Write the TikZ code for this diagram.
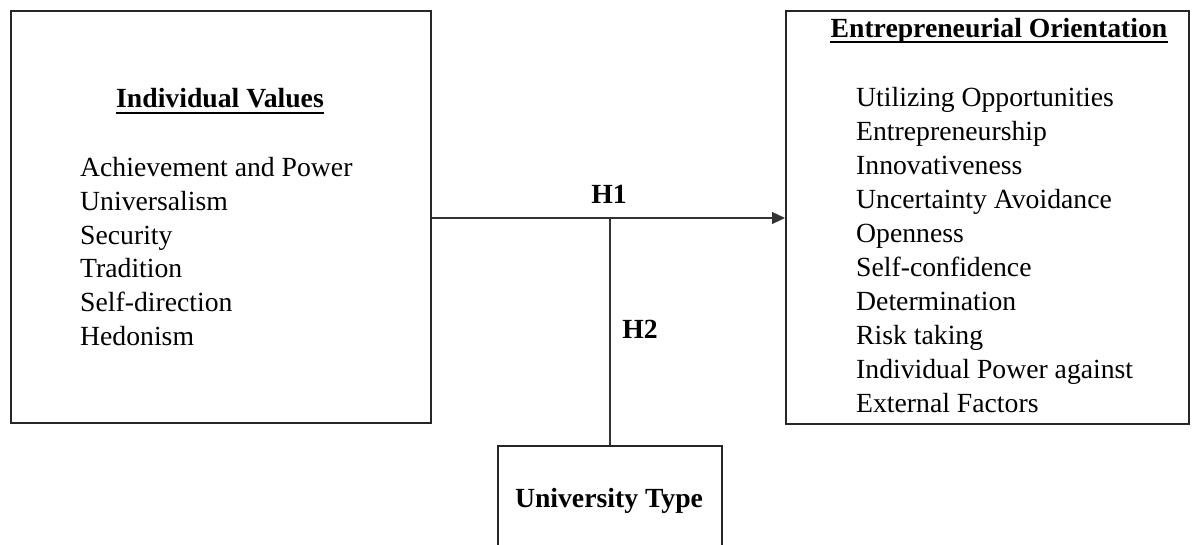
\documentclass[tikz,border=0pt]{standalone}
\usepackage{fontspec}
\setmainfont{Liberation Serif}
\usetikzlibrary{arrows.meta,calc}
\tikzset{
  box/.style={draw=black!85, line width=1.9pt, rectangle, inner sep=0pt},
  txt/.style={inner sep=0pt, font=\fontsize{27.7}{34}\selectfont},
  head/.style={txt, font=\fontsize{27.7}{34}\selectfont\bfseries, anchor=base},
  item/.style={txt, anchor=base west},
  conn/.style={line width=1.2pt, draw=black!80},
  uline/.style={line width=1.7pt},
}
\begin{document}
\begin{tikzpicture}[x=1pt,y=1pt]
\useasboundingbox (0,0) rectangle (1202,-545);
\clip (0,0) rectangle (1202,-545);
% boxes
\node[box, minimum width=420, minimum height=412, anchor=north west] (iv) at (10,-10) {};
\node[box, minimum width=403, minimum height=413, anchor=north west] (eo) at (785,-10) {};
\node[box, minimum width=224, minimum height=140, anchor=north west] (ut) at (497,-445) {};
% headings
\node[head] (ivh) at (220,-108) {Individual Values};
\draw[uline] ($(ivh.base west)+(0,-5)$) -- ($(ivh.base east)+(0,-5)$);
\node[head] (eoh) at (999,-37.5) {Entrepreneurial Orientation};
\draw[uline] ($(eoh.base west)+(0,-4.5)$) -- ($(eoh.base east)+(0,-4.5)$);
\node[head] (uth) at (609,-507) {University Type};
% left items
\foreach \t [count=\i from 0] in {Achievement and Power, Universalism, Security, Tradition, Self-direction, Hedonism}
  \node[item] (li\i) at (80,{-177-33.6*\i}) {\t};
% right items
\foreach \t [count=\i from 0] in {Utilizing Opportunities, Entrepreneurship, Innovativeness, Uncertainty Avoidance, Openness, Self-confidence, Determination, Risk taking, Individual Power against, External Factors}
  \node[item] (ri\i) at (856,{-107-33.9*\i}) {\t};
% hypotheses labels
\node[head] (h1) at (609,-204) {H1};
\node[head] (h2) at (640,-338) {H2};
% connectors
\coordinate (jn) at (ut.north |- 0,-218);
\draw[conn, -{Triangle[length=13pt,width=12pt]}] (iv.east |- jn) -- (eo.west |- jn);
\draw[conn] (ut.north) -- (jn);
\end{tikzpicture}
\end{document}
